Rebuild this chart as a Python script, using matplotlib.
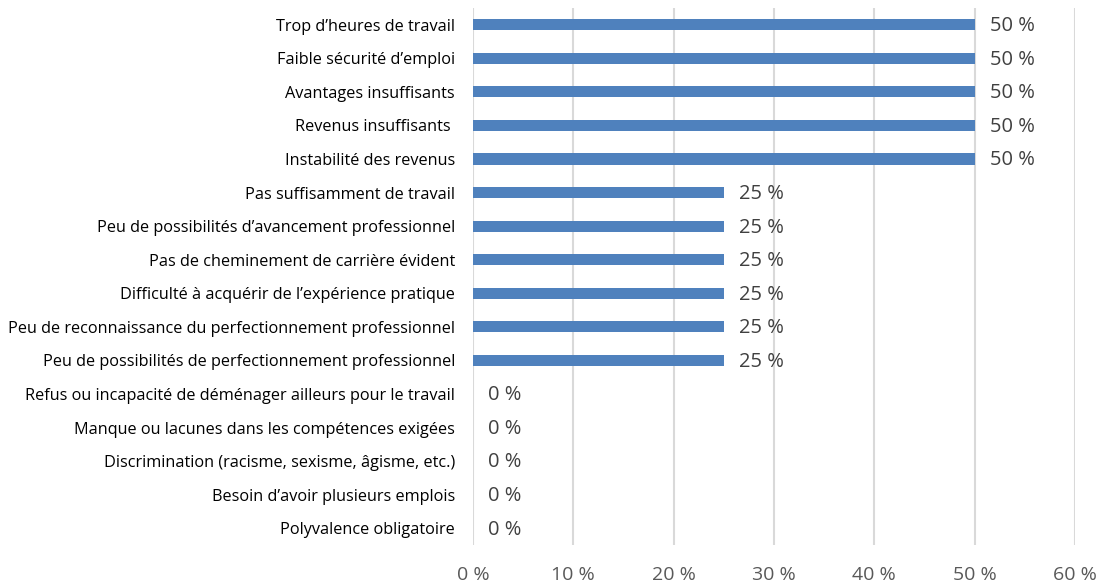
import matplotlib.pyplot as plt

categories = [
    "Trop d’heures de travail",
    "Faible sécurité d’emploi",
    "Avantages insuffisants",
    "Revenus insuffisants ",
    "Instabilité des revenus",
    "Pas suffisamment de travail",
    "Peu de possibilités d’avancement professionnel",
    "Pas de cheminement de carrière évident",
    "Difficulté à acquérir de l’expérience pratique",
    "Peu de reconnaissance du perfectionnement professionnel",
    "Peu de possibilités de perfectionnement professionnel",
    "Refus ou incapacité de déménager ailleurs pour le travail",
    "Manque ou lacunes dans les compétences exigées",
    "Discrimination (racisme, sexisme, âgisme, etc.)",
    "Besoin d’avoir plusieurs emplois",
    "Polyvalence obligatoire",
]
values = [0.50, 0.50, 0.50, 0.50, 0.50, 0.25, 0.25, 0.25, 0.25, 0.25, 0.25, 0, 0, 0, 0, 0]
xticks = [0, 0.1, 0.2, 0.3, 0.4, 0.5, 0.6]

plt.rcParams['font.family'] = ['Open Sans', 'DejaVu Sans']

fig = plt.figure(figsize=(11.01, 5.87), dpi=100)
ax = fig.add_axes([473 / 1101, 1 - 545 / 587, (1075 - 473) / 1101, 537 / 587])

ypos = list(range(len(categories)))[::-1]
ax.barh(ypos, values, height=0.33, color="#4F81BD", zorder=3)

for y, v in zip(ypos, values):
    ax.annotate(f"{v * 100:.0f} %", (v, y), xytext=(11, -1), textcoords="offset points",
                va="center", ha="left", fontsize=14.5, color="#404040")

ax.set_xlim(0, 0.6)
ax.set_ylim(-0.5, len(categories) - 0.5)
ax.set_xticks(xticks)
ax.set_xticklabels([f"{t * 100:.0f} %" for t in xticks], fontsize=14, color="#595959")
ax.set_yticks(ypos)
ax.set_yticklabels(categories, fontsize=11.7, color="#000000")
ax.tick_params(axis="x", length=0, pad=15)
ax.tick_params(axis="y", length=0, pad=13)
ax.grid(axis="x", color="#D9D9D9", linewidth=1.5, zorder=0)
for s in ax.spines.values():
    s.set_visible(False)

fig.savefig("out.png", dpi=100)
